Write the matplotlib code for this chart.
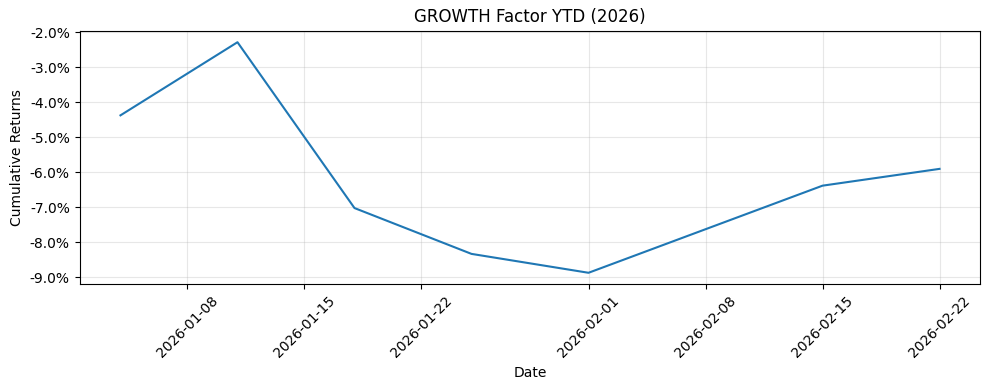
import matplotlib.pyplot as plt
import matplotlib.dates as mdates
import matplotlib.ticker as mticker
import pandas as pd

dates = pd.to_datetime(['2026-01-04', '2026-01-11', '2026-01-18', '2026-01-25',
                        '2026-02-01', '2026-02-15', '2026-02-22'])
cum_returns = [-4.37, -2.28, -7.02, -8.33, -8.87, -6.38, -5.90]

fig, ax = plt.subplots(figsize=(9.89, 3.9), dpi=100)
ax.plot(dates, cum_returns, color='#1f77b4', linewidth=1.5)

ax.set_title('GROWTH Factor YTD (2026)')
ax.set_xlabel('Date')
ax.set_ylabel('Cumulative Returns')
ax.grid(True, alpha=0.3)

ax.yaxis.set_major_formatter(mticker.FuncFormatter(lambda v, p: f'{v:.1f}%'))
ax.xaxis.set_major_formatter(mdates.DateFormatter('%Y-%m-%d'))
plt.setp(ax.get_xticklabels(), rotation=45)

fig.subplots_adjust(left=0.0804, right=0.9914, top=0.9213, bottom=0.271)
plt.savefig('out.png', dpi=100)
